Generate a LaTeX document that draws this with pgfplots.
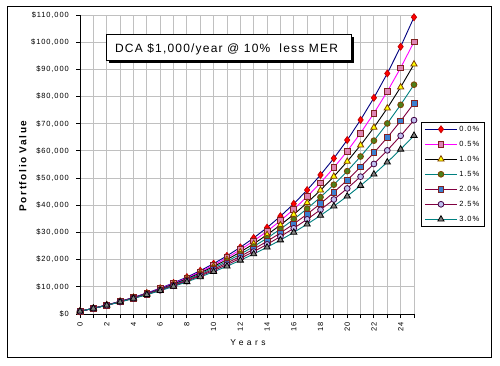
\documentclass[border=0pt]{standalone}
\usepackage{fontspec}
\setmainfont{Liberation Sans}
\newfontfamily\tickf{Liberation Sans}[LetterSpace=12]
\newfontfamily\titlef{Liberation Sans}[LetterSpace=10]
\newfontfamily\ylabf{Liberation Sans}[LetterSpace=16]
\newfontfamily\xlabf{Liberation Sans}[LetterSpace=40]
\usepackage{pgfplots}
\pgfplotsset{compat=1.18}
\usepackage{pgfplotstable}
\definecolor{gridgray}{HTML}{C0C0C0}
\definecolor{navyc}{HTML}{000080}
\definecolor{magc}{HTML}{FF00FF}
\definecolor{pinkf}{HTML}{DE84B4}
\definecolor{maroonb}{HTML}{802020}
\definecolor{yelf}{HTML}{FFFF00}
\definecolor{brownb}{HTML}{804000}
\definecolor{tealc}{HTML}{008080}
\definecolor{greenf}{HTML}{4D7F1A}
\definecolor{plumc}{HTML}{800040}
\definecolor{bluef}{HTML}{3A7FD0}
\definecolor{lavf}{HTML}{C0C0F0}
\definecolor{lavb}{HTML}{400040}
\definecolor{grayf}{HTML}{808080}

\pgfplotstableread{
year m00 m05 m10 m15 m20 m25 m30
0 1000 1000 1000 1000 1000 1000 1000
1 2100 2095 2089 2084 2078 2073 2067
2 3310 3292 3275 3257 3240 3223 3205
3 4641 4604 4566 4529 4493 4456 4420
4 6105 6039 5973 5908 5843 5780 5716
5 7716 7609 7504 7401 7299 7199 7099
6 9487 9328 9172 9019 8868 8720 8575
7 11436 11210 10989 10772 10560 10353 10150
8 13579 13269 12967 12671 12384 12103 11830
9 15937 15523 15121 14730 14350 13981 13622
10 18531 17990 17466 16959 16469 15994 15535
11 21384 20690 20021 19376 18754 18154 17576
12 24523 23645 22803 21993 21216 20470 19753
13 27975 26880 25832 24830 23871 22954 22077
14 31772 30420 29131 27903 26733 25618 24556
15 35950 34295 32724 31233 29818 28476 27201
16 40545 38535 36636 34841 33144 31540 30024
17 45599 43177 40897 38750 36729 34827 33035
18 51159 48257 45537 42986 40594 38352 36249
19 57275 53818 50590 47575 44761 42132 39677
20 64002 59903 56092 52548 49252 46187 43336
21 71403 66564 62084 57936 54094 50535 47239
22 79543 73855 68610 63773 59313 55199 51404
23 88497 81834 75716 70098 64939 60201 55848
24 98347 90567 83455 76951 71005 65566 60590
25 109182 100126 91882 84377 77543 71319 65650
}\datatable

\begin{document}
\begin{tikzpicture}[x=1bp,y=1bp]
\useasboundingbox (0,0) rectangle (500,365);
\fill[white] (0,0) rectangle (500,365);
\draw[black, line width=1bp] (7,7.5) rectangle (491,358);
\begin{axis}[
  at={(80bp,51bp)}, anchor=south west,
  scale only axis, width=334bp, height=299bp,
  xmin=0, xmax=25, ymin=0, ymax=110000,
  clip=false,
  axis x line*=bottom, axis y line*=left,
  axis line style={line width=1bp, black},
  xtick={0,2,...,24}, minor xtick={1,3,...,25},
  xticklabels={0,2,4,6,8,10,12,14,16,18,20,22,24},
  ytick={0,10000,...,110000},
  yticklabels={{\$0},{\$10,000},{\$20,000},{\$30,000},{\$40,000},{\$50,000},{\$60,000},{\$70,000},{\$80,000},{\$90,000},{\$100,000},{\$110,000}},
  scaled y ticks=false,
  grid=both,
  major grid style={color=gridgray, line width=0.9bp},
  minor grid style={color=gridgray, line width=0.9bp},
  tick align=outside, major tick length=4bp, minor tick length=4bp,
  tick style={black, line width=0.9bp},
  /pgf/number format/assume math mode=true,
  xticklabel style={font=\tickf\fontsize{7.5bp}{9bp}\selectfont, yshift=-4bp, rotate=90, anchor=east, inner sep=0pt},
  yticklabel style={font=\tickf\fontsize{7.5bp}{9bp}\selectfont, xshift=-7bp, anchor=east, inner sep=0pt},
  xlabel={Years},
  xlabel style={font=\xlabf\fontsize{8.5bp}{10bp}\selectfont, at={(axis description cs:0.503,-0.097)}, anchor=center},
  ylabel={Portfolio Value},
  ylabel style={font=\ylabf\bfseries\fontsize{10bp}{12bp}\selectfont, at={(axis description cs:-0.171,0.495)}, anchor=center},
  legend style={at={(1.021,0.642)}, anchor=north west, draw=black, line width=1bp, fill=white,
    font=\tickf\fontsize{7.5bp}{9bp}\selectfont, inner xsep=3bp, inner ysep=2bp,
    row sep=5.5bp, cells={anchor=west},
    nodes={inner ysep=1bp, inner xsep=2bp, text height=6bp, text depth=1.5bp}},
  legend image code/.code={\draw[mark repeat=2,mark phase=2,#1] plot coordinates {(0bp,0bp) (16bp,0bp) (32bp,0bp)};},
  every axis plot/.append style={line width=0.9bp},
]
\addplot[color=navyc, mark=diamond*, mark size=3.5bp, mark options={fill=red, draw=red!75!black, line width=0.7bp}] table[x=year,y=m00] {\datatable};
\addplot[color=magc, mark=square*, mark size=2.9bp, mark options={fill=pinkf, draw=maroonb, line width=0.8bp}] table[x=year,y=m05] {\datatable};
\addplot[color=black, mark=triangle*, mark size=3.6bp, mark options={fill=yelf, draw=brownb, line width=0.8bp}] table[x=year,y=m10] {\datatable};
\addplot[color=tealc, mark=*, mark size=2.9bp, mark options={fill=greenf, draw=brownb, line width=0.8bp}] table[x=year,y=m15] {\datatable};
\addplot[color=plumc, mark=square*, mark size=2.9bp, mark options={fill=bluef, draw=maroonb, line width=0.8bp}] table[x=year,y=m20] {\datatable};
\addplot[color=plumc, mark=*, mark size=2.9bp, mark options={fill=lavf, draw=lavb, line width=0.8bp}] table[x=year,y=m25] {\datatable};
\addplot[color=tealc, mark=triangle*, mark size=3.6bp, mark options={fill=grayf, draw=black, line width=0.8bp}] table[x=year,y=m30] {\datatable};
\legend{0.0\%,0.5\%,1.0\%,1.5\%,2.0\%,2.5\%,3.0\%}
\end{axis}
\fill[black] (109,302) rectangle (354,328);
\draw[fill=white, line width=1bp] (106,305) rectangle (351,331);
\node[font=\titlef\fontsize{12bp}{14bp}\selectfont, anchor=base, inner sep=0pt] at (226.5,312.7) {DCA \$1,000/year @ 10\%\ \ less MER};
\end{tikzpicture}
\end{document}
